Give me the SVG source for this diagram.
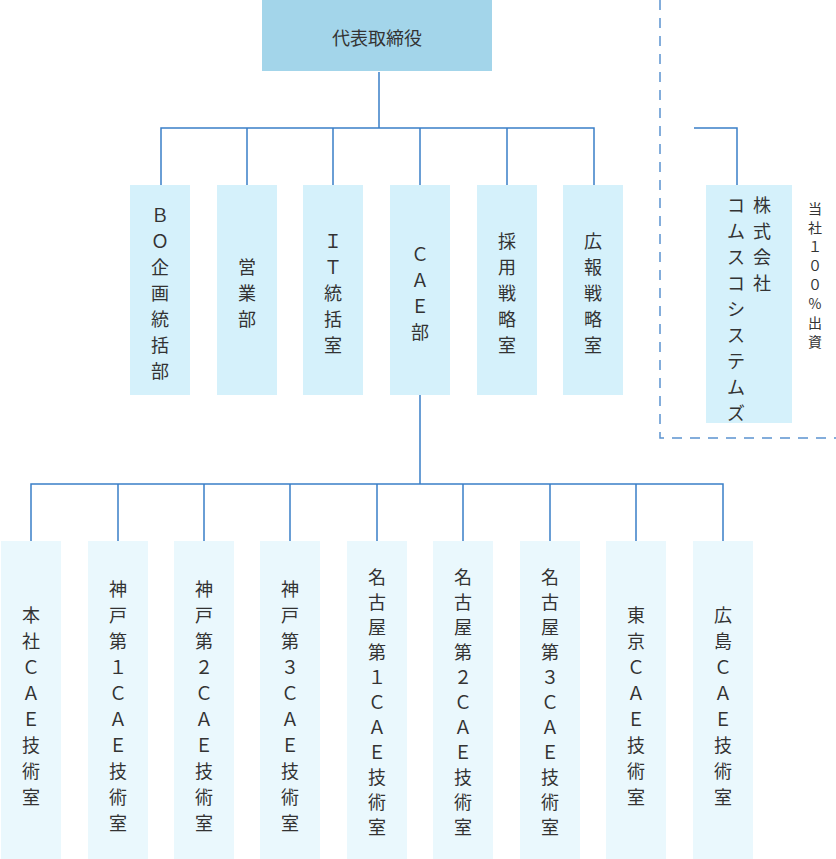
<svg xmlns="http://www.w3.org/2000/svg" width="836" height="859" viewBox="0 0 836 859">
<style>
text{font-family:"Noto Sans CJK JP","Noto Sans",sans-serif;fill:#333;font-size:18px;text-anchor:middle}
.c{stroke:#3a7fc8;stroke-width:1.5;fill:none}
.m{fill:#d5f1fb}.b{fill:#eaf8fd}
</style>
<rect width="836" height="859" fill="#fff"/>
<g id="connectors">
<path class="c" d="M379 72V128M161 185V128H594V185M247 128V185M333 128V185M420 128V185M507 128V185"/>
<path class="c" d="M694 128H737V185"/>
<path class="c" d="M420 395V484M31 541V484H723V541M118 484V541M204 484V541M290 484V541M377 484V541M463 484V541M550 484V541M636 484V541"/>
<path d="M660 0V438H836" fill="none" stroke="#5b93d0" stroke-width="1.5" stroke-dasharray="10 8"/>
</g>
<g id="ceo"><rect x="262" y="0" width="230" height="71" fill="#a3d5ea"/><text x="377" y="45">代表取締役</text></g>
<g id="bo"><rect class="m" x="130" y="185" width="60" height="210"/><text x="160"><tspan x="160" y="222">Ｂ</tspan><tspan x="160" dy="26">Ｏ</tspan><tspan x="160" dy="26">企</tspan><tspan x="160" dy="26">画</tspan><tspan x="160" dy="26">統</tspan><tspan x="160" dy="26">括</tspan><tspan x="160" dy="26">部</tspan></text></g>
<g id="eigyo"><rect class="m" x="217" y="185" width="60" height="210"/><text><tspan x="247" y="274">営</tspan><tspan x="247" dy="26">業</tspan><tspan x="247" dy="26">部</tspan></text></g>
<g id="it"><rect class="m" x="303" y="185" width="60" height="210"/><text><tspan x="333" y="248">Ｉ</tspan><tspan x="333" dy="26">Ｔ</tspan><tspan x="333" dy="26">統</tspan><tspan x="333" dy="26">括</tspan><tspan x="333" dy="26">室</tspan></text></g>
<g id="cae"><rect class="m" x="390" y="185" width="60" height="210"/><text><tspan x="420" y="261">Ｃ</tspan><tspan x="420" dy="26">Ａ</tspan><tspan x="420" dy="26">Ｅ</tspan><tspan x="420" dy="26">部</tspan></text></g>
<g id="saiyo"><rect class="m" x="477" y="185" width="60" height="210"/><text><tspan x="507" y="248">採</tspan><tspan x="507" dy="26">用</tspan><tspan x="507" dy="26">戦</tspan><tspan x="507" dy="26">略</tspan><tspan x="507" dy="26">室</tspan></text></g>
<g id="koho"><rect class="m" x="563" y="185" width="60" height="210"/><text><tspan x="593" y="248">広</tspan><tspan x="593" dy="26">報</tspan><tspan x="593" dy="26">戦</tspan><tspan x="593" dy="26">略</tspan><tspan x="593" dy="26">室</tspan></text></g>
<g id="comm"><rect class="m" x="706" y="185" width="86" height="238"/>
<text><tspan x="762" y="212">株</tspan><tspan x="762" dy="26">式</tspan><tspan x="762" dy="26">会</tspan><tspan x="762" dy="26">社</tspan></text>
<text><tspan x="736" y="212">コ</tspan><tspan x="736" dy="26">ム</tspan><tspan x="736" dy="26">ス</tspan><tspan x="736" dy="26">コ</tspan><tspan x="736" dy="26">シ</tspan><tspan x="736" dy="26">ス</tspan><tspan x="736" dy="26">テ</tspan><tspan x="736" dy="26">ム</tspan><tspan x="736" dy="26">ズ</tspan></text>
<text style="font-size:14px"><tspan x="815" y="214">当</tspan><tspan x="815" dy="19">社</tspan><tspan x="815" dy="19">１</tspan><tspan x="815" dy="19">０</tspan><tspan x="815" dy="19">０</tspan><tspan x="815" dy="19">%</tspan><tspan x="815" dy="19">出</tspan><tspan x="815" dy="19">資</tspan></text></g>
<g id="honsha"><rect class="b" x="1" y="541" width="60" height="318"/><text><tspan x="31" y="622">本</tspan><tspan x="31" dy="26">社</tspan><tspan x="31" dy="26">Ｃ</tspan><tspan x="31" dy="26">Ａ</tspan><tspan x="31" dy="26">Ｅ</tspan><tspan x="31" dy="26">技</tspan><tspan x="31" dy="26">術</tspan><tspan x="31" dy="26">室</tspan></text></g>
<g id="kobe1"><rect class="b" x="88" y="541" width="60" height="318"/><text><tspan x="118" y="596">神</tspan><tspan x="118" dy="26">戸</tspan><tspan x="118" dy="26">第</tspan><tspan x="118" dy="26">１</tspan><tspan x="118" dy="26">Ｃ</tspan><tspan x="118" dy="26">Ａ</tspan><tspan x="118" dy="26">Ｅ</tspan><tspan x="118" dy="26">技</tspan><tspan x="118" dy="26">術</tspan><tspan x="118" dy="26">室</tspan></text></g>
<g id="kobe2"><rect class="b" x="174" y="541" width="60" height="318"/><text><tspan x="204" y="596">神</tspan><tspan x="204" dy="26">戸</tspan><tspan x="204" dy="26">第</tspan><tspan x="204" dy="26">２</tspan><tspan x="204" dy="26">Ｃ</tspan><tspan x="204" dy="26">Ａ</tspan><tspan x="204" dy="26">Ｅ</tspan><tspan x="204" dy="26">技</tspan><tspan x="204" dy="26">術</tspan><tspan x="204" dy="26">室</tspan></text></g>
<g id="kobe3"><rect class="b" x="260" y="541" width="60" height="318"/><text><tspan x="290" y="596">神</tspan><tspan x="290" dy="26">戸</tspan><tspan x="290" dy="26">第</tspan><tspan x="290" dy="26">３</tspan><tspan x="290" dy="26">Ｃ</tspan><tspan x="290" dy="26">Ａ</tspan><tspan x="290" dy="26">Ｅ</tspan><tspan x="290" dy="26">技</tspan><tspan x="290" dy="26">術</tspan><tspan x="290" dy="26">室</tspan></text></g>
<g id="nagoya1"><rect class="b" x="347" y="541" width="60" height="318"/><text><tspan x="377" y="584">名</tspan><tspan x="377" dy="25">古</tspan><tspan x="377" dy="25">屋</tspan><tspan x="377" dy="25">第</tspan><tspan x="377" dy="25">１</tspan><tspan x="377" dy="25">Ｃ</tspan><tspan x="377" dy="25">Ａ</tspan><tspan x="377" dy="25">Ｅ</tspan><tspan x="377" dy="25">技</tspan><tspan x="377" dy="25">術</tspan><tspan x="377" dy="25">室</tspan></text></g>
<g id="nagoya2"><rect class="b" x="433" y="541" width="60" height="318"/><text><tspan x="463" y="584">名</tspan><tspan x="463" dy="25">古</tspan><tspan x="463" dy="25">屋</tspan><tspan x="463" dy="25">第</tspan><tspan x="463" dy="25">２</tspan><tspan x="463" dy="25">Ｃ</tspan><tspan x="463" dy="25">Ａ</tspan><tspan x="463" dy="25">Ｅ</tspan><tspan x="463" dy="25">技</tspan><tspan x="463" dy="25">術</tspan><tspan x="463" dy="25">室</tspan></text></g>
<g id="nagoya3"><rect class="b" x="520" y="541" width="60" height="318"/><text><tspan x="550" y="584">名</tspan><tspan x="550" dy="25">古</tspan><tspan x="550" dy="25">屋</tspan><tspan x="550" dy="25">第</tspan><tspan x="550" dy="25">３</tspan><tspan x="550" dy="25">Ｃ</tspan><tspan x="550" dy="25">Ａ</tspan><tspan x="550" dy="25">Ｅ</tspan><tspan x="550" dy="25">技</tspan><tspan x="550" dy="25">術</tspan><tspan x="550" dy="25">室</tspan></text></g>
<g id="tokyo"><rect class="b" x="606" y="541" width="60" height="318"/><text><tspan x="636" y="622">東</tspan><tspan x="636" dy="26">京</tspan><tspan x="636" dy="26">Ｃ</tspan><tspan x="636" dy="26">Ａ</tspan><tspan x="636" dy="26">Ｅ</tspan><tspan x="636" dy="26">技</tspan><tspan x="636" dy="26">術</tspan><tspan x="636" dy="26">室</tspan></text></g>
<g id="hiroshima"><rect class="b" x="693" y="541" width="60" height="318"/><text><tspan x="723" y="622">広</tspan><tspan x="723" dy="26">島</tspan><tspan x="723" dy="26">Ｃ</tspan><tspan x="723" dy="26">Ａ</tspan><tspan x="723" dy="26">Ｅ</tspan><tspan x="723" dy="26">技</tspan><tspan x="723" dy="26">術</tspan><tspan x="723" dy="26">室</tspan></text></g>
</svg>
